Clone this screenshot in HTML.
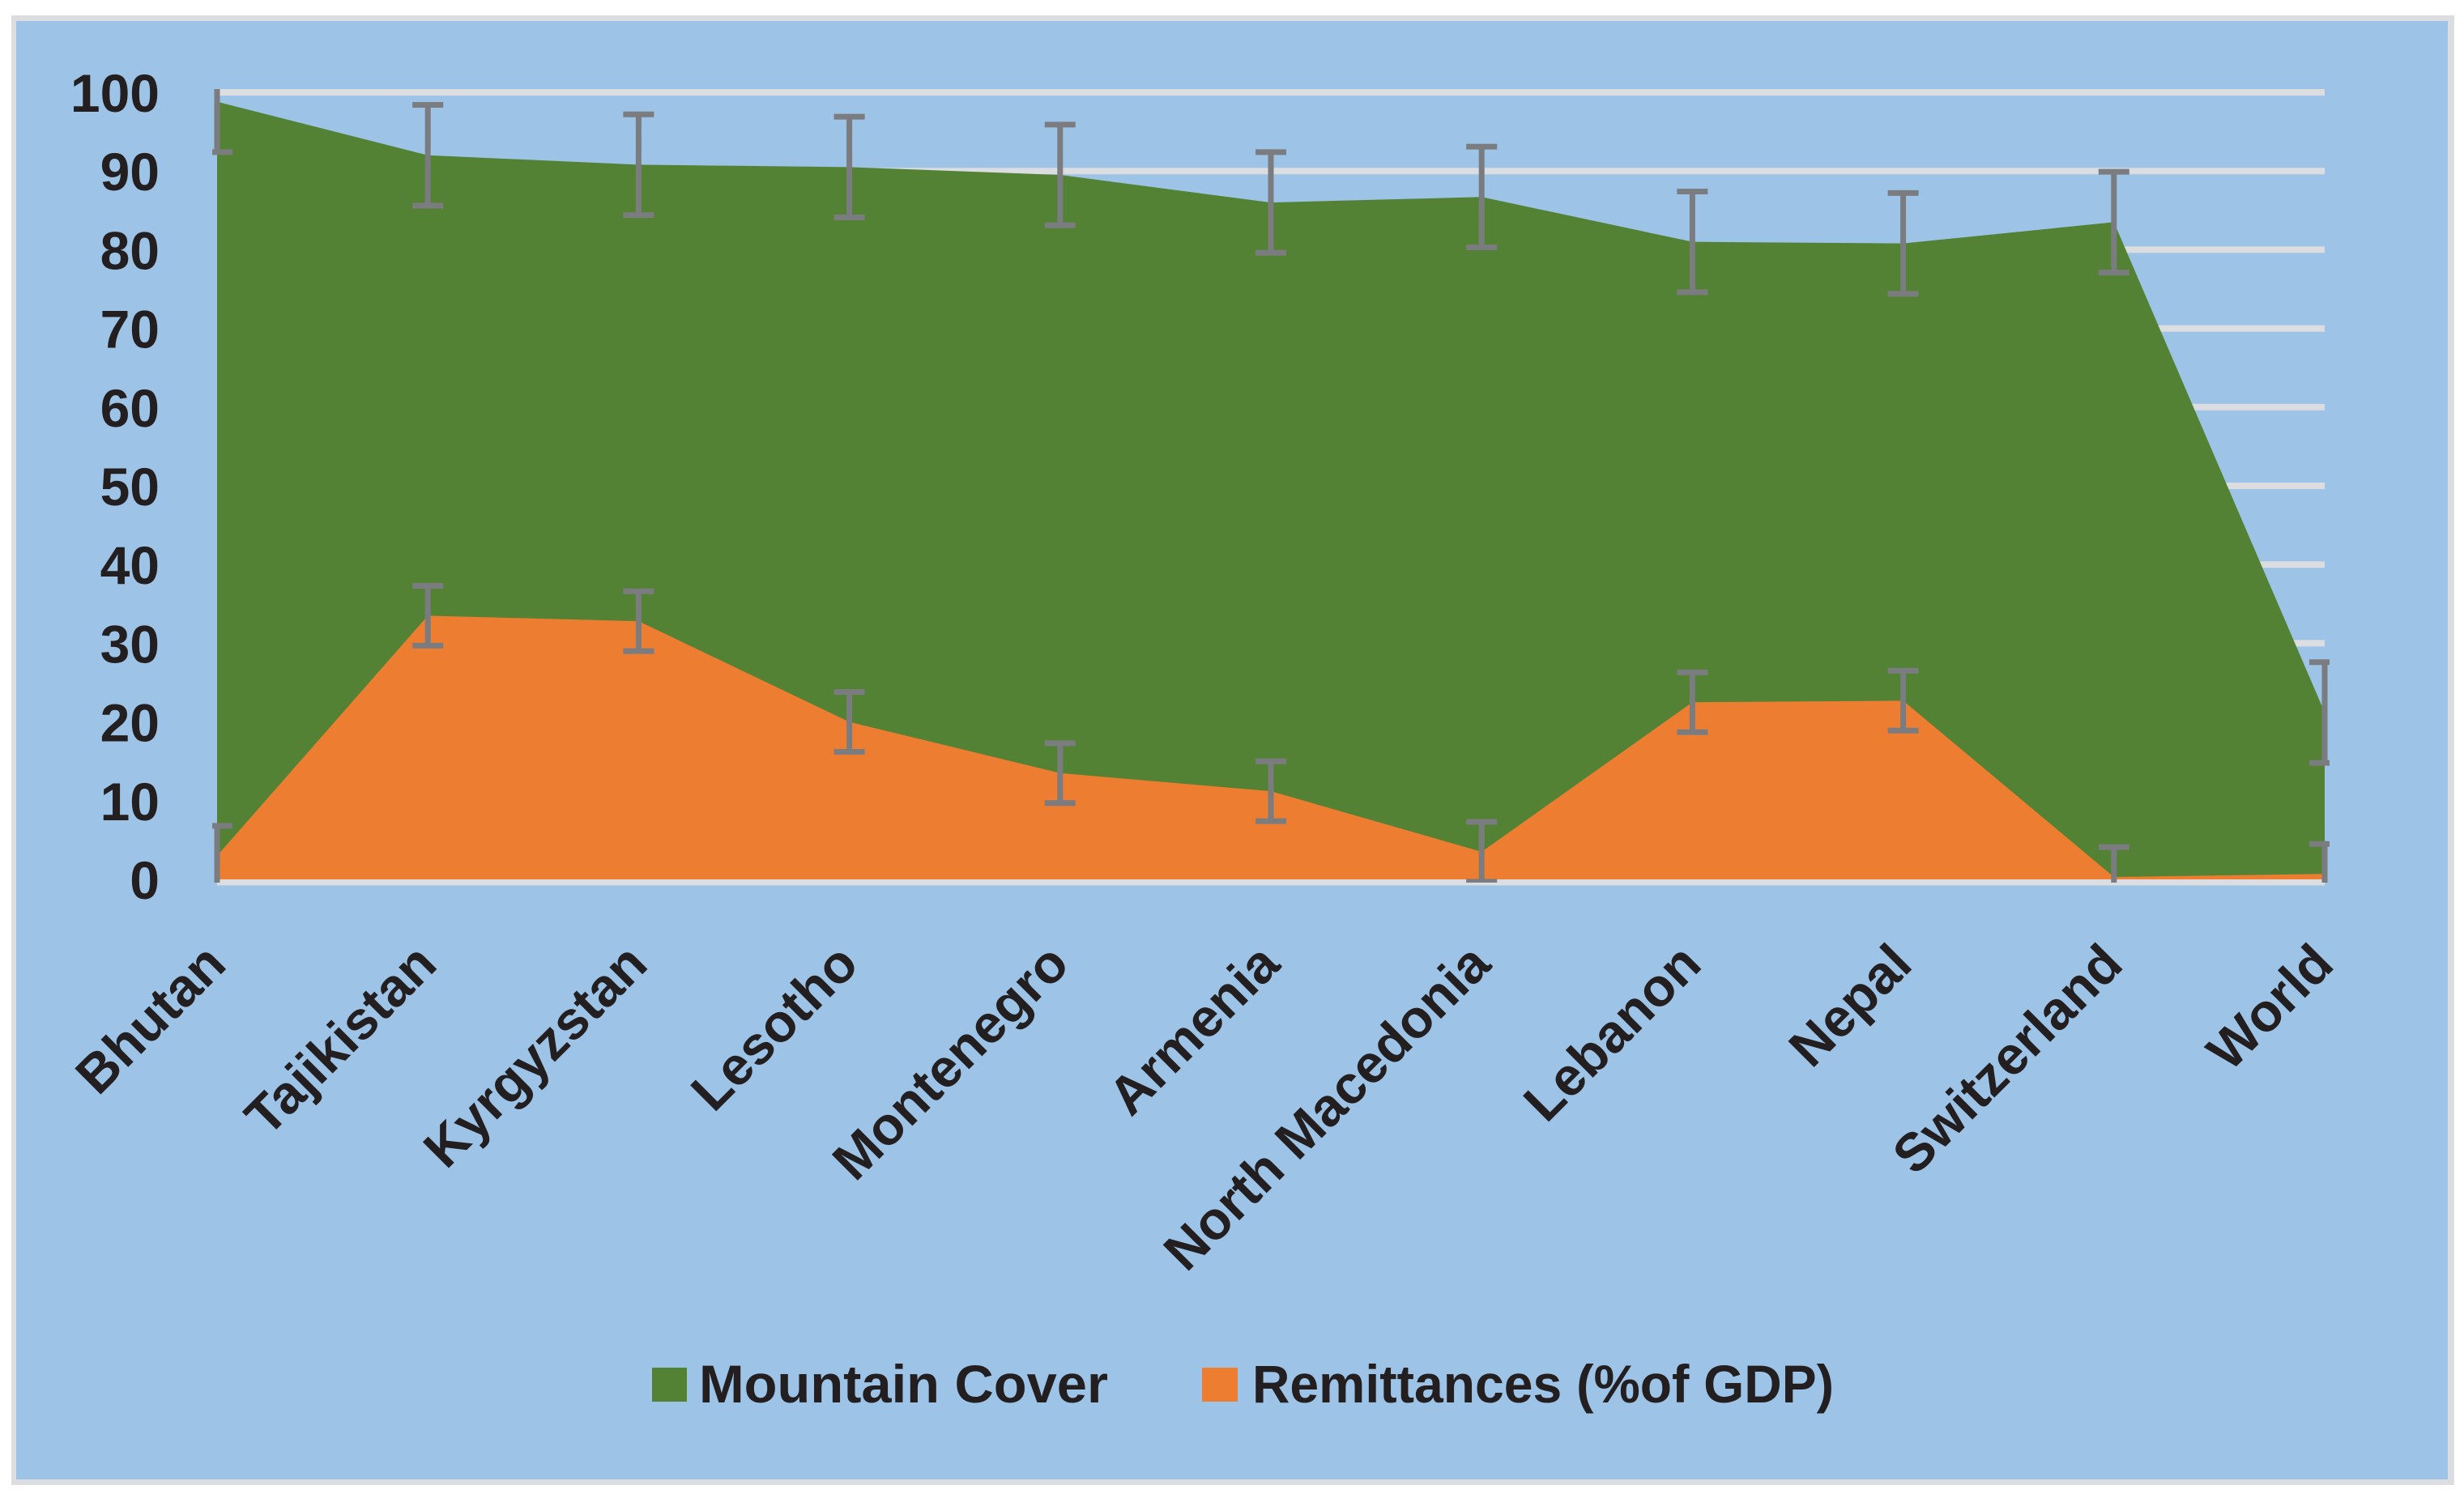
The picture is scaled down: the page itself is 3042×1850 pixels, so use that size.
<!DOCTYPE html>
<html><head><meta charset="utf-8"><style>
html,body{margin:0;padding:0;background:#fff;}
svg{display:block;}
text{font-family:"Liberation Sans",sans-serif;font-weight:bold;fill:#231f20;}
</style></head><body>
<svg id="chart" width="3042" height="1850" viewBox="0 0 3042 1850" xmlns="http://www.w3.org/2000/svg">
<defs><clipPath id="plotclip"><rect x="262" y="110" width="2614" height="980"/></clipPath></defs>
<rect x="14" y="19" width="3016" height="1815" fill="#dcdde0"/>
<rect x="20" y="26" width="3002" height="1801" fill="#9dc3e6"/>
<g id="grid"></g>
<g id="areas"></g>
<g id="errs" clip-path="url(#plotclip)"></g>
<g id="yaxis"></g>
<g id="xaxis"></g>
<g>
 <g>
  <rect x="805" y="1689" width="43" height="42" fill="#548235"/>
  <text x="863" y="1732" font-size="66" textLength="505" lengthAdjust="spacingAndGlyphs">Mountain Cover</text>
 </g>
 <g>
  <rect x="1484" y="1689" width="44" height="42" fill="#ed7d31"/>
  <text x="1546" y="1732" font-size="66" textLength="718" lengthAdjust="spacingAndGlyphs">Remittances (%of GDP)</text>
 </g>
</g>
</svg>
<script>
const categories = ["Bhutan","Tajikistan","Kyrgyzstan","Lesotho","Montenegro","Armenia","North Macedonia","Lebanon","Nepal","Switzerland","World"];
const mountainCover = [98.8, 92.0, 90.8, 90.5, 89.5, 86.0, 86.7, 81.0, 80.8, 83.5, 21.2];
const mountainError = [6.4, 6.4, 6.4, 6.4, 6.4, 6.4, 6.4, 6.4, 6.4, 6.4, 6.4];
const remittances = [3.0, 33.5, 32.8, 20.0, 13.5, 11.2, 3.5, 22.5, 22.7, 0.3, 0.7];
const remitError = [3.8, 3.8, 3.8, 3.8, 3.8, 3.8, 3.8, 3.8, 3.8, 3.8, 3.8];
const yTicks = [0,10,20,30,40,50,60,70,80,90,100];

const NS = "http://www.w3.org/2000/svg";
const X0 = 268, X1 = 2870, Y0 = 1086, Y1 = 114, YMAX = 100;
const xPos = i => X0 + i * (X1 - X0) / (categories.length - 1);
const yPos = v => Y0 - v / YMAX * (Y0 - Y1);
function mk(tag, parent) { const e = document.createElementNS(NS, tag); parent.appendChild(e); return e; }

const grid = document.getElementById('grid');
yTicks.forEach(t => {
  const l = mk('line', grid);
  
  
  l.setAttribute('x1', X0); l.setAttribute('x2', X1);
  l.setAttribute('y1', yPos(t)); l.setAttribute('y2', yPos(t));
  l.setAttribute('stroke', '#dcdde0'); l.setAttribute('stroke-width', 8);
});

const areas = document.getElementById('areas');
function area(vals, color, name) {
  let d = 'M' + xPos(0) + ',' + Y0;
  vals.forEach((v, i) => { d += ' L' + xPos(i) + ',' + yPos(v); });
  d += ' L' + xPos(vals.length - 1) + ',' + Y0 + ' Z';
  const p = mk('path', areas);
  
  
  p.setAttribute('d', d); p.setAttribute('fill', color);
}
area(mountainCover, '#548235', 'area-mountain-cover');
area(remittances, '#ed7d31', 'area-remittances');
const axisLine = mk('line', areas);


axisLine.setAttribute('x1', X0); axisLine.setAttribute('x2', X1);
axisLine.setAttribute('y1', Y0 + 4); axisLine.setAttribute('y2', Y0 + 4);
axisLine.setAttribute('stroke', '#dcdde0'); axisLine.setAttribute('stroke-width', 7);

const errs = document.getElementById('errs');
function errorBars(vals, errsArr, name) {
  vals.forEach((v, i) => {
    const x = xPos(i), yt = yPos(v + errsArr[i]), yb = yPos(v - errsArr[i]);
    const g = mk('g', errs);
    
    
    [[x, yt, x, yb], [x - 19, yt, x + 19, yt], [x - 19, yb, x + 19, yb]].forEach(c => {
      const l = mk('line', g);
      l.setAttribute('x1', c[0]); l.setAttribute('y1', c[1]);
      l.setAttribute('x2', c[2]); l.setAttribute('y2', c[3]);
      l.setAttribute('stroke', '#7b7c80'); l.setAttribute('stroke-width', 7);
    });
  });
}
errorBars(mountainCover, mountainError, 'error-bar-mountain');
errorBars(remittances, remitError, 'error-bar-remittances');

const yaxis = document.getElementById('yaxis');
yTicks.forEach(t => {
  const tx = mk('text', yaxis);
  
  
  tx.setAttribute('x', 197); tx.setAttribute('y', yPos(t) + 24);
  tx.setAttribute('font-size', 66); tx.setAttribute('text-anchor', 'end');
  tx.textContent = t;
});

const xaxis = document.getElementById('xaxis');
categories.forEach((c, i) => {
  const tx = mk('text', xaxis);
  
  
  const ax = xPos(i) + 14, ay = 1194;
  tx.setAttribute('transform', 'translate(' + ax + ',' + ay + ') rotate(-45)');
  tx.setAttribute('font-size', 66); tx.setAttribute('text-anchor', 'end');
  tx.textContent = c;
});
</script>
</body></html>
